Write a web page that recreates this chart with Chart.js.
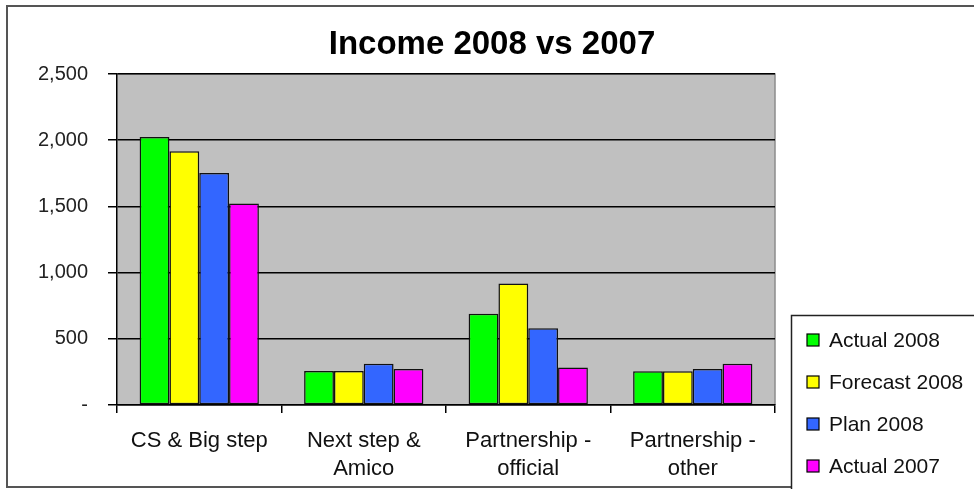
<!DOCTYPE html>
<html>
<head>
<meta charset="utf-8">
<script src="https://cdn.jsdelivr.net/npm/chart.js@4.4.1/dist/chart.umd.min.js"></script>
<style>
  body { margin: 0; background: #fff; }
  #wrap { width: 974px; height: 489px; }
</style>
</head>
<body>
<div id="wrap"><canvas id="incomeChart" width="974" height="489"></canvas></div>
<script>
// chart data
const categories = [
  ["CS & Big step"],
  ["Next step &", "Amico"],
  ["Partnership -", "official"],
  ["Partnership -", "other"]
];
const actual2008 = [2025, 256, 689, 255];
const forecast2008 = [1917, 256, 918, 255];
const plan2008 = [1752, 312, 580, 271];
const actual2007 = [1521, 271, 283, 312];
const yTicks = [0, 500, 1000, 1500, 2000, 2500];

const seriesNames = ["Actual 2008", "Forecast 2008", "Plan 2008", "Actual 2007"];
const seriesColors = ["#00ff00", "#ffff00", "#3366ff", "#ff00ff"];
const font = "'Liberation Sans', Arial, sans-serif";

// gray plot background, outer frame, title and legend box
const decorations = {
  id: "decorations",
  beforeDraw(chart) {
    const { ctx, chartArea: a } = chart;
    ctx.save();
    ctx.fillStyle = "#c0c0c0";
    ctx.fillRect(a.left, a.top, a.right - a.left, a.bottom - a.top);
    ctx.strokeStyle = "#8c8c8c";
    ctx.lineWidth = 1.5;
    ctx.beginPath();
    ctx.moveTo(a.left, a.top);
    ctx.lineTo(a.right, a.top);
    ctx.lineTo(a.right, a.bottom);
    ctx.stroke();
    ctx.restore();
  },
  afterDraw(chart) {
    const { ctx } = chart;
    ctx.save();
    // outer frame
    ctx.strokeStyle = "#555";
    ctx.lineWidth = 2;
    ctx.strokeRect(7, 6, 990, 481);

    // title
    ctx.fillStyle = "#000";
    ctx.font = "bold 33px " + font;
    ctx.textAlign = "center";
    ctx.textBaseline = "middle";
    ctx.fillText("Income 2008 vs 2007", 492, 45);

    // legend
    ctx.fillStyle = "#fff";
    ctx.fillRect(791, 315, 200, 200);
    ctx.strokeStyle = "#222";
    ctx.lineWidth = 1.5;
    ctx.strokeRect(791.5, 315.5, 200, 200);
    ctx.font = "21px " + font;
    ctx.textAlign = "left";
    chart.data.datasets.forEach((ds, i) => {
      const y = 340 + i * 42;
      ctx.fillStyle = ds.backgroundColor;
      ctx.fillRect(807, y - 6, 12, 12);
      ctx.strokeStyle = "#000";
      ctx.lineWidth = 1.2;
      ctx.strokeRect(807, y - 6, 12, 12);
      ctx.fillStyle = "#111";
      ctx.fillText(ds.label, 829, y + 1);
    });
    ctx.restore();
  }
};

const seriesValues = [actual2008, forecast2008, plan2008, actual2007];

new Chart(document.getElementById("incomeChart"), {
  type: "bar",
  data: {
    labels: categories,
    datasets: seriesValues.map((vals, i) => ({
      label: seriesNames[i],
      data: vals,
      backgroundColor: seriesColors[i],
      borderColor: "#111",
      borderWidth: 1.5,
      borderSkipped: false,
      categoryPercentage: 0.725,
      barPercentage: 1.0
    }))
  },
  options: {
    responsive: false,
    devicePixelRatio: 1,
    animation: false,
    layout: { padding: { left: 0, right: 199, top: 74, bottom: 0 } },
    plugins: {
      legend: { display: false },
      title: { display: false },
      tooltip: { enabled: false }
    },
    scales: {
      x: {
        grid: {
          drawOnChartArea: false,
          drawTicks: true,
          tickLength: 8,
          color: "#000",
          lineWidth: 1.5
        },
        border: { display: true, color: "#000", width: 1.5 },
        ticks: {
          padding: 14,
          color: "#111",
          font: { family: font, size: 22, lineHeight: 1.27 },
          maxRotation: 0,
          autoSkip: false
        },
        afterFit(scale) { scale.height = 84; }
      },
      y: {
        min: 0,
        max: 2500,
        afterBuildTicks(scale) { scale.ticks = yTicks.map(v => ({ value: v })); },
        grid: {
          color: "#000",
          lineWidth: 1.5,
          tickLength: 9
        },
        border: { display: true, color: "#000", width: 1.5 },
        ticks: {
          padding: 20,
          color: "#222",
          font: { family: font, size: 20 },
          callback: v => v === 0 ? "-" : v.toLocaleString("en-US")
        },
        afterFit(scale) { scale.width = 117; }
      }
    }
  },
  plugins: [decorations]
});
</script>
</body>
</html>
